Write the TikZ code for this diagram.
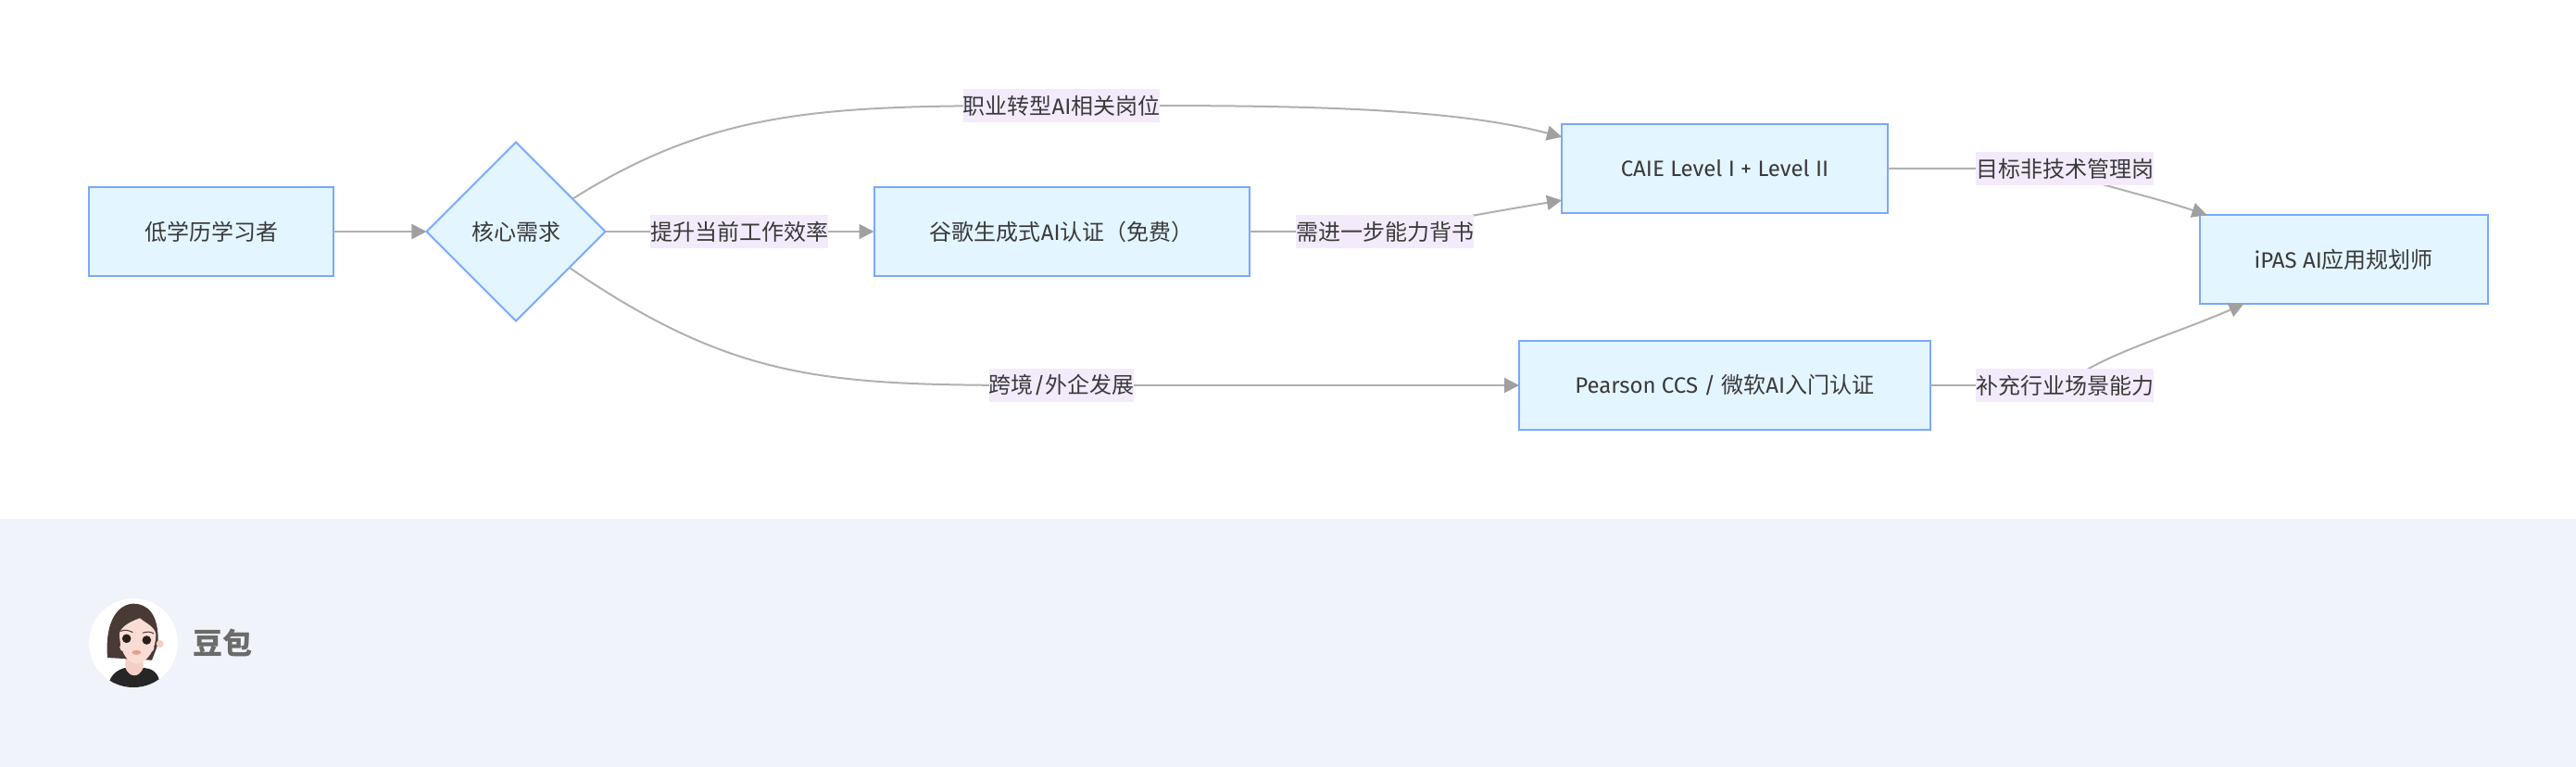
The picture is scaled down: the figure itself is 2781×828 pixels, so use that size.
\documentclass[tikz,border=0pt]{standalone}
\usepackage{fontspec}
\setmainfont{Fira Sans}
\newfontfamily\cjk{Noto Sans CJK SC}
\usetikzlibrary{shapes.geometric,arrows.meta}
\definecolor{boxline}{HTML}{78A8FF}
\definecolor{boxfill}{HTML}{E3F5FF}
\definecolor{lblfill}{HTML}{F3EBFC}
\definecolor{linegray}{HTML}{B0B0B0}
\definecolor{tipgray}{HTML}{A0A0A0}
\definecolor{inktext}{HTML}{3A3A3A}
\definecolor{bandfill}{HTML}{F0F3FA}
\definecolor{hairbrown}{HTML}{4A3A35}
\definecolor{skinlight}{HTML}{F9DDD5}
\definecolor{skindark}{HTML}{F6CFC4}
\definecolor{eyedark}{HTML}{2B1F1C}
\definecolor{lippink}{HTML}{E89C8C}
\begin{document}
\begin{tikzpicture}[x=0.5pt,y=-0.5pt]
	\tikzset{flow box/.style={draw=boxline,fill=boxfill,line width=1pt,rectangle,minimum height=48pt,outer sep=0pt,inner sep=0pt,text=inktext,font=\fontsize{12pt}{18pt}\selectfont}}
	\tikzset{need diamond/.style={flow box,diamond,aspect=1,minimum width=96.5pt,minimum height=96.5pt}}
	\tikzset{flow line/.style={draw=linegray,line width=1pt,-{Triangle[length=8pt,width=8pt,fill=tipgray,color=tipgray]}}}
	\tikzset{flow label/.style={fill=lblfill,minimum height=18pt,inner xsep=0pt,inner ysep=0pt,text=inktext,font=\fontsize{12pt}{18pt}\selectfont}}
	\useasboundingbox (0,0) rectangle (2781,828);
	% band and signature
	\fill[bandfill] (0,560) rectangle (2781,828);
	\begin{scope}[x=0.16667pt,y=-0.16667pt,shift={(180,1860)}]
		\fill[white] (252,222) circle [radius=24pt];
		\clip (252,222) circle [radius=24pt];
		\fill[black!85] (175,345) .. controls (185,315) and (215,305) .. (225,303) -- (285,303) .. controls (310,305) and (330,315) .. (336,345) -- (336,370) -- (175,370) -- cycle;
		\fill[skindark] (225,265) -- (285,265) -- (283,305) .. controls (270,335) and (240,335) .. (227,305) -- cycle;
		\fill[hairbrown] (168,270) .. controls (160,170) and (190,100) .. (250,95) .. controls (300,95) and (335,130) .. (332,225) -- (312,278) -- cycle;
		\fill[skindark] (338,225) circle [radius=2pt];
		\fill[skinlight] (207,190) .. controls (215,165) and (250,150) .. (273,142) .. controls (295,160) and (322,170) .. (325,195) .. controls (325,240) and (300,285) .. (262,290) .. controls (225,285) and (207,240) .. (207,190) -- cycle;
		\fill[lippink!35] (222,236) circle [radius=2.4pt];
		\fill[lippink!35] (305,238) circle [radius=2.4pt];
		\fill[eyedark] (230,208) circle [radius=2.4pt];
		\fill[eyedark] (295,213) circle [radius=2.4pt];
		\draw[hairbrown,line width=0.5pt] (210,184) .. controls (225,178) and (240,182) .. (250,188);
		\draw[hairbrown,line width=0.5pt] (282,190) .. controls (295,184) and (310,186) .. (318,192);
		\fill[lippink] (262,253) ellipse [x radius=2.5pt,y radius=1.2pt];
	\end{scope}
	\node[font=\fontsize{16pt}{20pt}\cjk\bfseries,text=black!58,inner sep=0pt] (brand) at (240,694) {\selectfont 豆包};
	% boxes
	\node[flow box,minimum width=132pt]		(learner)	at (228,250)	{\cjk 低学历学习者};
	\node[need diamond]						(need)		at (557,250)	{\cjk 核心需求};
	\node[flow box,minimum width=202.75pt]	(google)	at (1146.25,250)	{{\cjk 谷歌生成式}AI{\cjk 认证（免费）}};
	\node[flow box,minimum width=176pt]		(caie)		at (1862,182)	{CAIE Level I + Level II};
	\node[flow box,minimum width=221.75pt]	(pearson)	at (1861.75,416)	{Pearson CCS / {\cjk 微软}AI{\cjk 入门认证}};
	\node[flow box,minimum width=155.25pt]	(ipas)		at (2530.25,280)	{iPAS AI{\cjk 应用规划师}};
	% points the connectors run through
	\coordinate (toptext)	at (1146,114);
	\coordinate (midtext)	at (798,250);
	\coordinate (lowtext)	at (1146,416);
	\coordinate (gaptext)	at (1495,250);
	\coordinate (mgrtext)	at (2229,182);
	\coordinate (biztext)	at (2229,416);
	% connectors
	\draw[flow line] (learner) -- (need);
	\draw[flow line] (need.30) .. controls (778,114) and (900,114) .. (toptext) .. controls (1350,114) and (1550,112) .. (caie.169);
	\draw[flow line] (need) -- (google);
	\draw[flow line] (need.-34) .. controls (800,416) and (900,416) .. (lowtext) -- (pearson);
	\draw[flow line] (google) -- (gaptext) .. controls (1530,244) and (1585,233) .. (caie.191);
	\draw[flow line] (caie) -- (mgrtext) .. controls (2245,196) and (2310,208) .. (ipas.162);
	\draw[flow line] (pearson) -- (biztext) .. controls (2262,385) and (2350,360) .. (ipas.204);
	% labels on the connectors
	\node[flow label] (toplabel) at (toptext) {{\cjk 职业转型}AI{\cjk 相关岗位}};
	\node[flow label] (midlabel) at (midtext) {\cjk 提升当前工作效率};
	\node[flow label] (lowlabel) at (lowtext) {{\cjk 跨境}/{\cjk 外企发展}};
	\node[flow label] (gaplabel) at (gaptext) {\cjk 需进一步能力背书};
	\node[flow label] (mgrlabel) at (mgrtext) {\cjk 目标非技术管理岗};
	\node[flow label] (bizlabel) at (biztext) {\cjk 补充行业场景能力};
\end{tikzpicture}
\end{document}
